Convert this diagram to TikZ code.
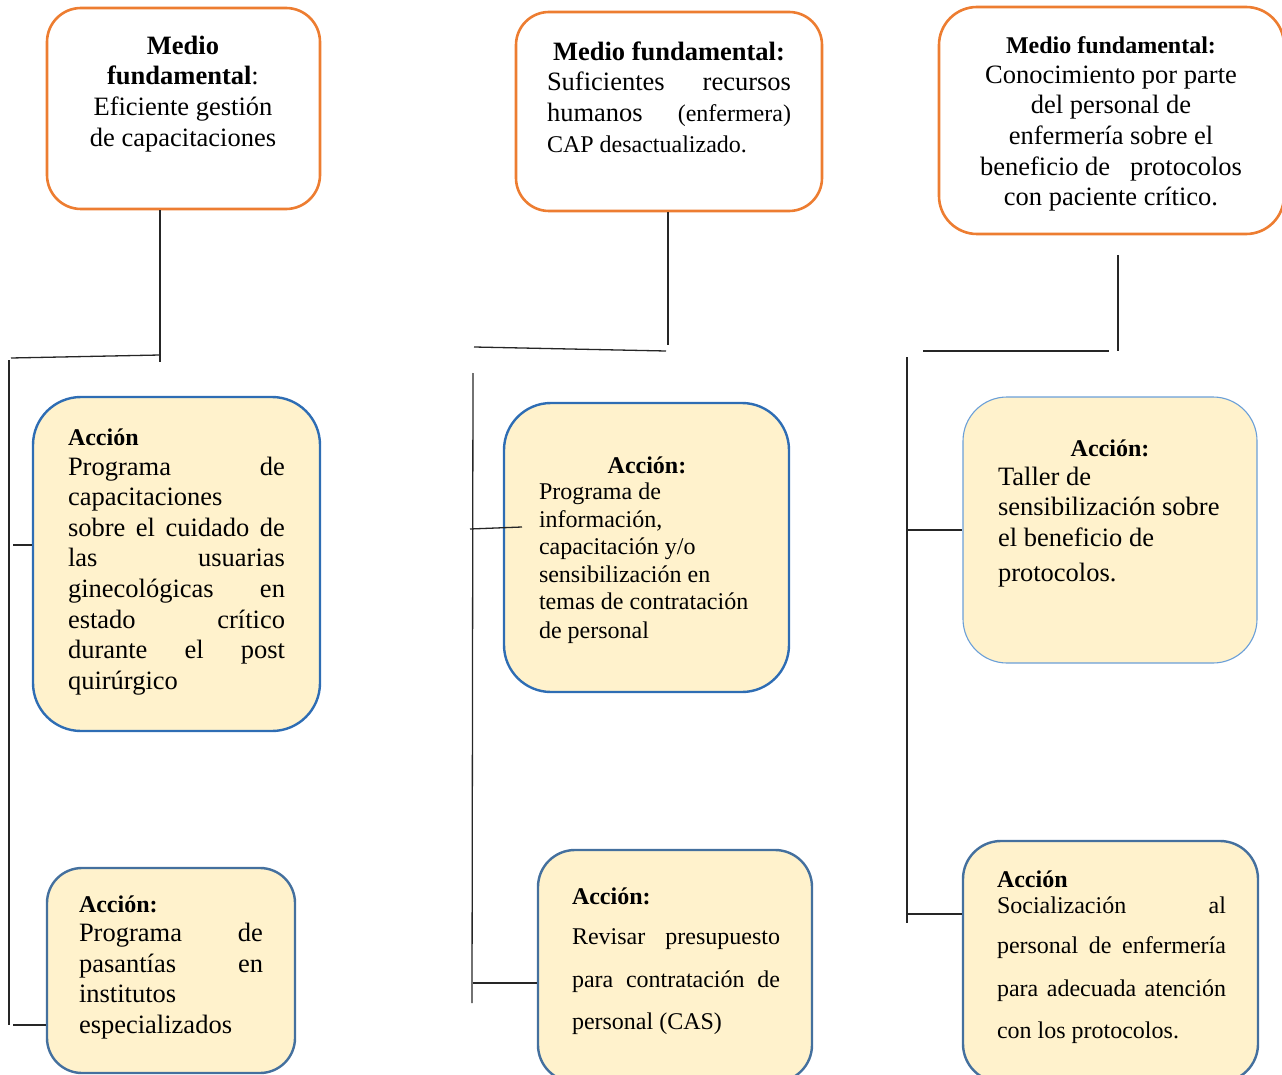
\documentclass[tikz,border=0pt]{standalone}
\usepackage{fontspec}
\setmainfont{Liberation Serif}
\definecolor{orng}{HTML}{ED7D31}
\definecolor{paleyel}{HTML}{FFF2CC}
\definecolor{blueA}{HTML}{2E6DB4}
\definecolor{blueB}{HTML}{44709E}
\definecolor{blueC}{HTML}{6A9FD8}
\newcommand\fsA{\fontsize{26.5}{30}\selectfont}
\newcommand\fsB{\fontsize{24}{28}\selectfont}
\newcommand\LL[2]{\baselineskip=#1pt\relax\hbox{#2}}
\newcommand\JJ[2]{\baselineskip=#1pt\relax\hbox to\hsize{#2}}
\newcommand\CC[2]{\baselineskip=#1pt\relax\hbox to\hsize{\hfil#2\hfil}}
\tikzset{
  medio/.style={draw=orng, line width=2.6pt, fill=white, inner sep=0pt, rounded corners=#1},
  accion/.style={draw=blueB, line width=2.4pt, fill=paleyel, inner sep=0pt, rounded corners=#1},
  txt/.style={inner sep=0pt, outer sep=0pt, anchor=base west, text=black},
  conn/.style={draw=black!85, line width=1.3pt}
}
\begin{document}
\begin{tikzpicture}[x=1pt,y=-1pt]
\useasboundingbox (0,0) rectangle (1282,1075);
% ---- boxes
\node[medio=34pt, minimum width=273pt, minimum height=201pt] (m1) at (183.5,108.5) {};
\node[medio=33pt, minimum width=306pt, minimum height=199pt] (m2) at (669,111.5) {};
\node[medio=38pt, minimum width=345pt, minimum height=227pt] (m3) at (1111.5,120.5) {};
\node[accion=48pt, draw=blueA, minimum width=287pt, minimum height=334pt] (a1) at (176.5,564) {};
\node[accion=35pt, minimum width=248pt, minimum height=205pt] (a2) at (171,970.5) {};
\node[accion=47pt, draw=blueA, minimum width=285pt, minimum height=289pt] (a3) at (646.5,547.5) {};
\node[accion=37pt, minimum width=274pt, minimum height=232pt] (a4) at (675,966) {};
\node[accion=44pt, draw=blueC, line width=1.1pt, minimum width=294pt, minimum height=266pt] (a5) at (1110,530) {};
\node[accion=38pt, minimum width=295pt, minimum height=241pt] (a6) at (1110.5,961.5) {};
% ---- texts
\node[txt] (t1) at (53,55) {\vtop{\hsize=260pt\lineskiplimit=-100pt\fsA
  \CC{0}{\bfseries Medio}
  \CC{30}{{\bfseries fundamental}:}
  \CC{30.5}{Eficiente gestión}
  \CC{31}{de capacitaciones}}};
\node[txt] (t2) at (547,60.5) {\vtop{\hsize=244pt\lineskiplimit=-100pt\fsA
  \CC{0}{\bfseries Medio fundamental:}
  \JJ{30.5}{Suficientes recursos}
  \JJ{30.5}{humanos {\fsB(enfermera)}}
  \LL{31}{\fsB CAP desactualizado.}}};
\node[txt] (t3) at (961,54) {\vtop{\hsize=300pt\lineskiplimit=-100pt\fsA
  \CC{0}{\fsB\bfseries Medio fundamental:}
  \CC{29.5}{Conocimiento por parte}
  \CC{30}{del personal de}
  \CC{31}{enfermería sobre el}
  \CC{31}{beneficio de\ \ \ protocolos}
  \CC{30.5}{con paciente crítico.}}};
\node[txt] (ta1) at (68,445) {\vtop{\hsize=217pt\lineskiplimit=-100pt\fsA
  \LL{0}{\fsB\bfseries Acción}
  \JJ{30}{Programa de}
  \LL{30}{capacitaciones}
  \JJ{31}{sobre el cuidado de}
  \JJ{30}{las usuarias}
  \JJ{31}{ginecológicas en}
  \JJ{31}{estado crítico}
  \JJ{30.5}{durante el post}
  \LL{30.5}{quirúrgico}}};
\node[txt] (ta2) at (79,912) {\vtop{\hsize=184pt\lineskiplimit=-100pt\fsA
  \LL{0}{\fsB\bfseries Acción:}
  \JJ{29}{Programa de}
  \JJ{31}{pasantías en}
  \LL{30}{institutos}
  \LL{31}{especializados}}};
\node[txt] (ta3) at (539,473) {\vtop{\hsize=216pt\lineskiplimit=-100pt\fsB
  \CC{0}{\bfseries Acción:}
  \LL{26.5}{Programa de}
  \LL{28}{información,}
  \LL{27}{capacitación y/o}
  \LL{28}{sensibilización en}
  \LL{27}{temas de contratación}
  \LL{29}{de personal}}};
\node[txt] (ta4) at (572,904) {\vtop{\hsize=208pt\lineskiplimit=-100pt\fsB
  \LL{0}{\bfseries Acción:}
  \JJ{40.5}{Revisar presupuesto}
  \JJ{43}{para contratación de}
  \LL{41.5}{personal (CAS)}}};
\node[txt] (ta5) at (998,456) {\vtop{\hsize=224pt\lineskiplimit=-100pt\fsA
  \CC{0}{\fsB\bfseries Acción:}
  \LL{29.5}{Taller de}
  \LL{30}{sensibilización sobre}
  \LL{31}{el beneficio de}
  \LL{35}{protocolos.}}};
\node[txt] (ta6) at (997,887) {\vtop{\hsize=229pt\lineskiplimit=-100pt\fsB
  \LL{0}{\bfseries Acción}
  \JJ{26}{Socialización al}
  \JJ{40.5}{personal de enfermería}
  \JJ{43}{para adecuada atención}
  \LL{41.5}{con los protocolos.}}};
% ---- connectors column 1
\coordinate (c1v) at (160,362);
\draw[conn] (c1v |- m1.south) -- (c1v);
\coordinate (c1hl) at (11,358);
\coordinate (c1hr) at (160,355);
\draw[conn] (c1hl) -- (c1hr);
\coordinate (c1tt) at (9,360);
\coordinate (c1tb) at (9,1025);
\draw[conn] (c1tt) -- (c1tb);
\coordinate (c1k1) at (13,545);
\draw[conn] (c1k1) -- (c1k1 -| a1.west);
\coordinate (c1k2) at (13,1025);
\draw[conn] (c1k2) -- (c1k2 -| a2.west);
% ---- connectors column 2
\coordinate (c2v) at (668,345);
\draw[conn] (c2v |- m2.south) -- (c2v);
\coordinate (c2hl) at (474,347);
\coordinate (c2hr) at (666,351);
\draw[conn] (c2hl) -- (c2hr);
\coordinate (c2tt) at (473,373);
\coordinate (c2tb) at (472,1003);
\draw[conn] (c2tt) -- (c2tb);
\coordinate (c2k1a) at (470,529);
\coordinate (c2k1b) at (522,527);
\draw[conn] (c2k1a) -- (c2k1b);
\coordinate (c2k2) at (473,983);
\draw[conn] (c2k2) -- (c2k2 -| a4.west);
% ---- connectors column 3
\coordinate (c3vt) at (1118,255);
\coordinate (c3vb) at (1118,351);
\draw[conn] (c3vt) -- (c3vb);
\coordinate (c3hl) at (923,351);
\coordinate (c3hr) at (1109,351);
\draw[conn] (c3hl) -- (c3hr);
\coordinate (c3tt) at (907,357);
\coordinate (c3tb) at (907,923);
\draw[conn] (c3tt) -- (c3tb);
\coordinate (c3k1) at (907,530);
\draw[conn] (c3k1) -- (a5.west);
\coordinate (c3k2) at (907,914);
\draw[conn] (c3k2) -- (c3k2 -| a6.west);
\end{tikzpicture}
\end{document}
